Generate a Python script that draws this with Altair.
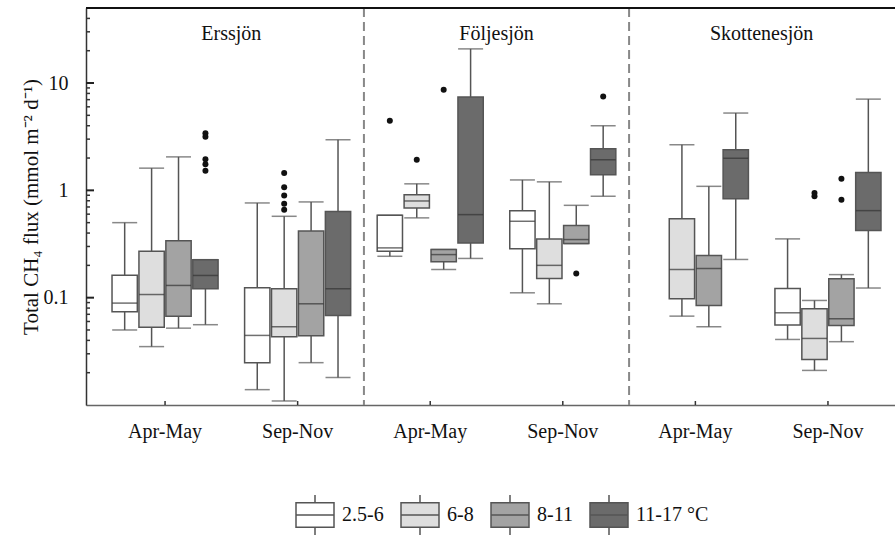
import altair as alt
import pandas as pd

# ---------------- data ----------------
lakes = ["Erssjön", "Följesjön", "Skottenesjön"]
seasons = ["Apr-May", "Sep-Nov"]
temps = ["2.5-6", "6-8", "8-11", "11-17 °C"]
fills = ["#ffffff", "#dedede", "#a3a3a3", "#6b6b6b"]

# per group: one entry per temperature class: [lower whisker, q1, median, q3, upper whisker] (None = no data)
erss_apr = [[0.050, 0.074, 0.089, 0.162, 0.50],
            [0.035, 0.053, 0.107, 0.271, 1.61],
            [0.052, 0.067, 0.130, 0.340, 2.05],
            [0.056, 0.121, 0.161, 0.226, 0.226]]
erss_sep = [[0.0139, 0.0248, 0.0445, 0.124, 0.763],
            [0.0109, 0.0433, 0.0536, 0.121, 0.573],
            [0.0248, 0.0442, 0.0877, 0.419, 0.78],
            [0.018, 0.0683, 0.121, 0.634, 2.96]]
folj_apr = [[0.243, 0.271, 0.291, 0.586, 0.586],
            [0.554, 0.685, 0.796, 0.912, 1.15],
            [0.183, 0.216, 0.252, 0.281, 0.281],
            [0.232, 0.324, 0.594, 7.39, 20.8]]
folj_sep = [[0.111, 0.285, 0.515, 0.647, 1.25],
            [0.0877, 0.151, 0.200, 0.353, 1.2],
            [0.319, 0.319, 0.348, 0.47, 0.725],
            [0.88, 1.4, 1.93, 2.44, 4.0]]
skot_apr = [None,
            [0.0673, 0.0977, 0.183, 0.545, 2.66],
            [0.0536, 0.0847, 0.187, 0.247, 1.09],
            [0.227, 0.837, 1.99, 2.39, 5.25]]
skot_sep = [[0.0408, 0.0555, 0.0723, 0.122, 0.353],
            [0.021, 0.0266, 0.0417, 0.0788, 0.0942],
            [0.0389, 0.0551, 0.0636, 0.15, 0.164],
            [0.123, 0.422, 0.647, 1.47, 7.08]]

# outliers: (lake, season, temperature class, value)
outliers = [
    ("Erssjön", "Apr-May", "11-17 °C", 3.4),
    ("Erssjön", "Apr-May", "11-17 °C", 3.15),
    ("Erssjön", "Apr-May", "11-17 °C", 1.95),
    ("Erssjön", "Apr-May", "11-17 °C", 1.75),
    ("Erssjön", "Apr-May", "11-17 °C", 1.52),
    ("Erssjön", "Sep-Nov", "6-8", 1.45),
    ("Erssjön", "Sep-Nov", "6-8", 1.07),
    ("Erssjön", "Sep-Nov", "6-8", 0.893),
    ("Erssjön", "Sep-Nov", "6-8", 0.752),
    ("Erssjön", "Sep-Nov", "6-8", 0.661),
    ("Följesjön", "Apr-May", "2.5-6", 4.45),
    ("Följesjön", "Apr-May", "6-8", 1.93),
    ("Följesjön", "Apr-May", "8-11", 8.64),
    ("Följesjön", "Sep-Nov", "8-11", 0.168),
    ("Följesjön", "Sep-Nov", "11-17 °C", 7.49),
    ("Skottenesjön", "Sep-Nov", "6-8", 0.946),
    ("Skottenesjön", "Sep-Nov", "6-8", 0.88),
    ("Skottenesjön", "Sep-Nov", "8-11", 1.28),
    ("Skottenesjön", "Sep-Nov", "8-11", 0.819),
]

major_ticks = [0.1, 1, 10]
minor_ticks = [0.02, 0.03, 0.04, 0.05, 0.06, 0.07, 0.08, 0.09,
               0.2, 0.3, 0.4, 0.5, 0.6, 0.7, 0.8, 0.9,
               2, 3, 4, 5, 6, 7, 8, 9, 20, 30, 40]

y_title = "Total CH₄ flux (mmol m⁻² d⁻¹)"

# ---------------- tables ----------------
stats = {("Erssjön", "Apr-May"): erss_apr, ("Erssjön", "Sep-Nov"): erss_sep,
         ("Följesjön", "Apr-May"): folj_apr, ("Följesjön", "Sep-Nov"): folj_sep,
         ("Skottenesjön", "Apr-May"): skot_apr, ("Skottenesjön", "Sep-Nov"): skot_sep}
groups = [f"{l}|{s}" for l in lakes for s in seasons]

rows = []
for (lake, season), boxes in stats.items():
    for t, b in zip(temps, boxes):
        if b is None:
            continue
        rows.append(dict(group=f"{lake}|{season}", temp=t, lo=b[0], q1=b[1],
                         med=b[2], q3=b[3], hi=b[4]))
box_df = pd.DataFrame(rows)
out_df = pd.DataFrame([dict(group=f"{l}|{s}", temp=t, v=v) for l, s, t, v in outliers])
titles_df = pd.DataFrame(dict(group=[f"{l}|Apr-May" for l in lakes], lake=lakes))
div_df = pd.DataFrame(dict(group=[f"{l}|Sep-Nov" for l in lakes[:-1]]))
gc_df = pd.DataFrame(dict(group=groups))
maj_df = pd.DataFrame(dict(v=major_ticks))
min_df = pd.DataFrame(dict(v=minor_ticks))

# ---------------- scales / encodings ----------------
W, H = 809, 397
FONT = "Liberation Serif"
P_IN, P_OUT = 0.2, 0.151
STEP = W / (len(groups) - P_IN + 2 * P_OUT)
GAP_HALF = STEP * P_IN / 2  # half of the gap between two groups

xscale = alt.Scale(domain=groups, paddingInner=P_IN, paddingOuter=P_OUT, align=0.65)
xaxis = alt.Axis(title=None, labelExpr="split(datum.value, '|')[1]", tickSize=0,
                 labelPadding=16, labelFontSize=20, labelFont=FONT, labelColor="#111",
                 domainColor="#666", domainWidth=1.5, grid=False, labelAngle=0)
yscale = alt.Scale(type="log", domain=[0.01, 50], nice=False)
yaxis = alt.Axis(title=y_title, values=major_ticks, format="~g", tickSize=0,
                 labelPadding=18, labelFontSize=20, labelFont=FONT, labelColor="#111",
                 domainColor="#333", domainWidth=1.5, grid=False,
                 titleFont=FONT, titleFontSize=21, titleFontWeight="normal", titleColor="#111",
                 titleX=-49, titleY=H / 2, titleBaseline="alphabetic", titleAngle=-90)
X = alt.X("group:N", scale=xscale, axis=xaxis)
XO = alt.XOffset("temp:N", scale=alt.Scale(domain=temps, paddingInner=0.06, paddingOuter=0))

def Y(f):
    return alt.Y(f, type="quantitative", scale=yscale, axis=yaxis)

STROKE = "#555"

base = alt.Chart(box_df)
whisk_lo = base.mark_rule(color=STROKE, strokeWidth=1.5).encode(x=X, xOffset=XO, y=Y("lo"), y2="q1")
whisk_hi = base.mark_rule(color=STROKE, strokeWidth=1.5).encode(x=X, xOffset=XO, y=Y("q3"), y2="hi")
cap_lo = base.mark_tick(color=STROKE, thickness=1.5, size=25).encode(x=X, xOffset=XO, y=Y("lo"))
cap_hi = base.mark_tick(color=STROKE, thickness=1.5, size=25).encode(x=X, xOffset=XO, y=Y("hi"))
boxes = base.mark_bar(stroke=STROKE, strokeWidth=1.5, opacity=1).encode(
    x=X, xOffset=XO, y=Y("q1"), y2="q3",
    color=alt.Color("temp:N", scale=alt.Scale(domain=temps, range=fills),
                    legend=alt.Legend(
                        title=None, orient="none", direction="horizontal",
                        legendX=209, legendY=487, padding=0,
                        symbolType="M-1,-0.64L1,-0.64L1,0.64L-1,0.64Z M-1,0L1,0 M0,-0.64L0,-1.05 M0,0.64L0,1.05",
                        symbolSize=1444, symbolStrokeColor=STROKE, symbolStrokeWidth=1.5,
                        labelFont=FONT, labelFontSize=20, labelColor="#111",
                        labelOffset=7, columnPadding=14, labelLimit=200)))
medians = base.mark_tick(color="#333", thickness=1.5, size=25).encode(x=X, xOffset=XO, y=Y("med"))
pts = alt.Chart(out_df).mark_circle(color="#111", size=36, opacity=1).encode(
    x=X, xOffset=XO, y=Y("v"))

dividers = alt.Chart(div_df).mark_rule(color="#888", strokeWidth=2, strokeDash=[9, 5],
                                       xOffset=GAP_HALF).encode(
    x=alt.X("group:N", scale=xscale, axis=xaxis, bandPosition=1))
titles = alt.Chart(titles_df).mark_text(font=FONT, fontSize=20, color="#111",
                                        baseline="alphabetic", align="center",
                                        xOffset=GAP_HALF).encode(
    x=alt.X("group:N", scale=xscale, axis=xaxis, bandPosition=1),
    y=alt.value(32), text="lake:N")
top_border = alt.Chart(gc_df).mark_rule(color="#111", strokeWidth=2).encode(
    y=alt.value(0), x=alt.value(0), x2=alt.value(W))
ymaj = alt.Chart(maj_df).mark_rule(color="#222", strokeWidth=2).encode(
    x=alt.value(0), x2=alt.value(8), y=Y("v"))
ymin = alt.Chart(min_df).mark_rule(color="#333", strokeWidth=1.5).encode(
    x=alt.value(0), x2=alt.value(4), y=Y("v"))
xt = alt.Chart(gc_df).mark_rule(color="#333", strokeWidth=1.5).encode(
    x=X, y=alt.value(H), y2=alt.value(H - 4))

chart = alt.layer(
    dividers, top_border, ymin, ymaj, xt,
    whisk_lo, whisk_hi, cap_lo, cap_hi, boxes, medians, pts, titles
).properties(
    width=W, height=H,
    autosize=alt.AutoSizeParams(type="none"),
    padding={"left": 86, "top": 8, "right": 0, "bottom": 132},
    background="white",
).configure_view(stroke=None).configure(font=FONT)

chart.save("out.html", embed_options={"renderer": "svg", "actions": False})
